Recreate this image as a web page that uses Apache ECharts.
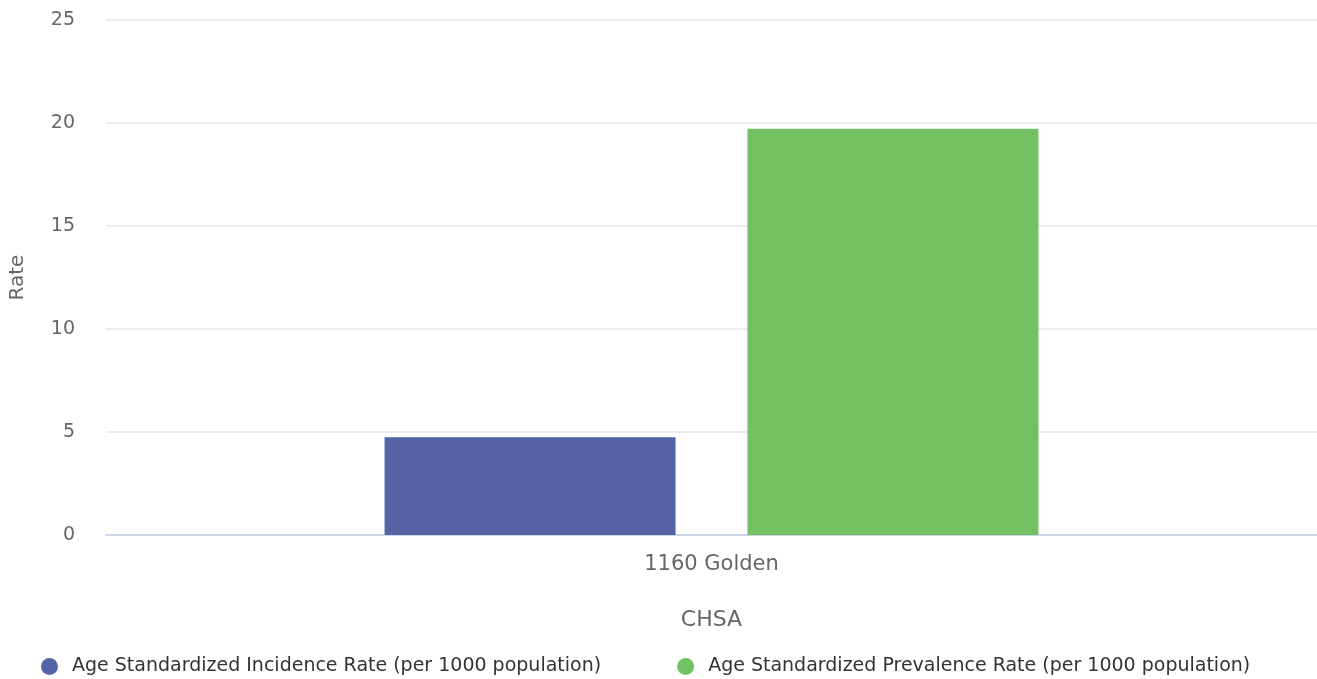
<!DOCTYPE html>
<html><head><meta charset="utf-8">
<script src="https://cdn.jsdelivr.net/npm/echarts@6/dist/echarts.min.js"></script>
<style>html,body{margin:0;padding:0;background:#fff}#c{width:1317px;height:679px}</style>
</head><body><div id="c"></div>
<script>
const categories = ["1160 Golden"];
const seriesNames = ["Age Standardized Incidence Rate (per 1000 population)", "Age Standardized Prevalence Rate (per 1000 population)"];
const incidence = [4.75];
const prevalence = [19.72];
const colors = ["#5463a6", "#73c062"];
const font = "'DejaVu Sans', Verdana, sans-serif";
const chart = echarts.init(document.getElementById('c'));
chart.setOption({
  animation: false,
  textStyle: {fontFamily: font},
  grid: {left: 105, right: 0, top: 20, bottom: 144, containLabel: false},
  legend: {
    left: 36, top: 652, icon: 'circle', itemWidth: 17, itemHeight: 17, itemGap: 76,
    textStyle: {fontFamily: font, fontSize: 19, color: '#333', padding: [0, 0, 0, 9]},
    data: seriesNames
  },
  xAxis: {
    type: 'category', data: categories,
    name: 'CHSA', nameLocation: 'middle', nameGap: 74,
    nameTextStyle: {fontFamily: font, fontSize: 22, color: '#666'},
    axisLine: {lineStyle: {color: '#ccd6eb', width: 2}},
    axisTick: {show: false},
    axisLabel: {fontFamily: font, fontSize: 21, color: '#666', margin: 19}
  },
  yAxis: {
    type: 'value', min: 0, max: 25, interval: 5,
    name: 'Rate', nameLocation: 'middle', nameGap: 78,
    nameTextStyle: {fontFamily: font, fontSize: 20, color: '#666'},
    axisLine: {show: false}, axisTick: {show: false},
    axisLabel: {fontFamily: font, fontSize: 19, color: '#666', margin: 31, lineHeight: 24, verticalAlign: 'middle', padding: [4, 0, 0, 0]},
    splitLine: {lineStyle: {color: '#e6e6e6', width: 1.5}}
  },
  series: [
    {name: seriesNames[0], type: 'bar', data: incidence, barWidth: 291, barGap: '24.7%', itemStyle: {color: colors[0]}},
    {name: seriesNames[1], type: 'bar', data: prevalence, barWidth: 291, itemStyle: {color: colors[1]}}
  ]
});
</script></body></html>
